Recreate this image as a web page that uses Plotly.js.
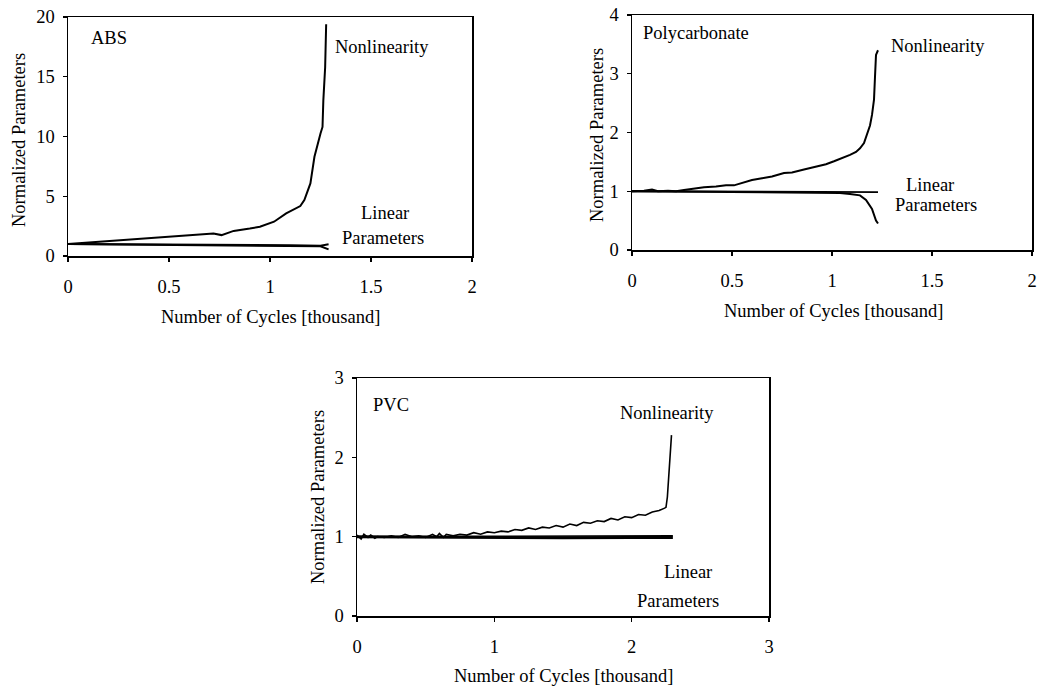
<!DOCTYPE html>
<html>
<head>
<meta charset="utf-8">
<script src="https://cdn.plot.ly/plotly-3.0.1.min.js"></script>
<style>html,body{margin:0;padding:0;background:#fff;}#chart{width:1039px;height:688px;}</style>
</head>
<body>
<div id="chart"></div>
<script>
// ---- ABS ----
const absNonX = [0, 0.1, 0.24, 0.37, 0.49, 0.6, 0.72, 0.76, 0.82, 0.9, 0.95, 1.02, 1.08, 1.15, 1.17, 1.2, 1.22, 1.25, 1.26, 1.264, 1.273, 1.278];
const absNonY = [1.0, 1.12, 1.34, 1.5, 1.62, 1.75, 1.89, 1.75, 2.1, 2.3, 2.45, 2.87, 3.57, 4.18, 4.68, 6.07, 8.3, 10.25, 10.8, 13.0, 15.8, 19.4];
const absLin1X = [0, 0.4, 0.8, 1.1, 1.25, 1.29];
const absLin1Y = [1.0, 0.98, 0.93, 0.9, 0.86, 0.98];
const absLin2X = [0, 0.4, 0.8, 1.1, 1.25, 1.29];
const absLin2Y = [1.0, 0.95, 0.9, 0.85, 0.82, 0.55];
const absXTicks = [0, 0.5, 1, 1.5, 2];
const absXTickText = ["0", "0.5", "1", "1.5", "2"];
const absYTicks = [0, 5, 10, 15, 20];

// ---- Polycarbonate ----
const pcNonX = [0, 0.06, 0.1, 0.13, 0.18, 0.22, 0.26, 0.31, 0.36, 0.42, 0.47, 0.51, 0.55, 0.6, 0.65, 0.7, 0.76, 0.8, 0.86, 0.93, 0.97, 1.01, 1.05, 1.09, 1.12, 1.14, 1.16, 1.17, 1.18, 1.19, 1.2, 1.21, 1.215, 1.22, 1.23];
const pcNonY = [1.0, 1.01, 1.03, 1.0, 1.01, 1.0, 1.02, 1.04, 1.07, 1.08, 1.1, 1.1, 1.14, 1.19, 1.22, 1.25, 1.31, 1.32, 1.37, 1.42, 1.46, 1.51, 1.56, 1.62, 1.67, 1.73, 1.82, 1.93, 2.02, 2.12, 2.3, 2.56, 2.95, 3.32, 3.4];
const pcLin1X = [0, 0.5, 1.0, 1.23];
const pcLin1Y = [1.0, 0.995, 0.99, 0.985];
const pcLin2X = [0, 0.5, 0.9, 1.04, 1.09, 1.14, 1.17, 1.2, 1.22, 1.23];
const pcLin2Y = [1.0, 0.99, 0.98, 0.97, 0.955, 0.93, 0.85, 0.7, 0.5, 0.45];
const pcXTicks = [0, 0.5, 1, 1.5, 2];
const pcXTickText = ["0", "0.5", "1", "1.5", "2"];
const pcYTicks = [0, 1, 2, 3, 4];

// ---- PVC ----
const pvcNonX = [0, 0.03, 0.05, 0.08, 0.1, 0.13, 0.15, 0.2, 0.25, 0.3, 0.35, 0.4, 0.45, 0.5, 0.55, 0.58, 0.6, 0.63, 0.65, 0.7, 0.75, 0.8, 0.85, 0.9, 0.95, 1.0, 1.05, 1.1, 1.15, 1.2, 1.25, 1.3, 1.35, 1.4, 1.45, 1.5, 1.55, 1.6, 1.65, 1.7, 1.75, 1.8, 1.85, 1.9, 1.95, 2.0, 2.05, 2.1, 2.15, 2.2, 2.24, 2.25, 2.26, 2.27, 2.28, 2.29];
const pvcNonY = [1.02, 0.97, 1.03, 0.99, 1.02, 0.98, 1.0, 0.99, 1.01, 0.99, 1.03, 1.0, 1.01, 0.99, 1.03, 1.0, 1.04, 0.99, 1.03, 1.01, 1.03, 1.02, 1.05, 1.03, 1.06, 1.05, 1.07, 1.06, 1.09, 1.08, 1.11, 1.09, 1.12, 1.11, 1.14, 1.12, 1.16, 1.14, 1.18, 1.17, 1.2, 1.19, 1.23, 1.21, 1.25, 1.24, 1.28, 1.27, 1.31, 1.33, 1.36, 1.37, 1.5, 1.8, 2.05, 2.28];
const pvcLin1X = [0, 0.5, 1.0, 1.5, 2.0, 2.3];
const pvcLin1Y = [1.0, 0.995, 0.99, 0.985, 0.99, 0.99];
const pvcLin2X = [0, 1.6, 2.3];
const pvcLin2Y = [1.0, 1.01, 1.01];
const pvcXTicks = [0, 1, 2, 3];
const pvcXTickText = ["0", "1", "2", "3"];
const pvcYTicks = [0, 1, 2, 3];

const FONT = "Liberation Serif, Times New Roman, serif";
const FS = 18.5;

function line(x, y, xa, ya, w) {
  return {x: x, y: y, xaxis: xa, yaxis: ya, type: "scatter", mode: "lines",
          line: {color: "#000", width: w}, hoverinfo: "skip", showlegend: false};
}

const data = [
  line(absNonX, absNonY, "x", "y", 2),
  line(absLin1X, absLin1Y, "x", "y", 2),
  line(absLin2X, absLin2Y, "x", "y", 2),
  line(pcNonX, pcNonY, "x2", "y2", 2),
  line(pcLin1X, pcLin1Y, "x2", "y2", 1.8),
  line(pcLin2X, pcLin2Y, "x2", "y2", 2),
  line(pvcNonX, pvcNonY, "x3", "y3", 1.6),
  line(pvcLin1X, pvcLin1Y, "x3", "y3", 3),
  line(pvcLin2X, pvcLin2Y, "x3", "y3", 1.5)
];

function xax(domain, range, ticks, text, anchor) {
  return {domain: domain, range: range, anchor: anchor, tickvals: ticks, ticktext: text,
          showgrid: false, zeroline: false, showline: true, mirror: true, linecolor: "#000", linewidth: 1.5,
          ticks: "outside", ticklen: 4, tickwidth: 1.2, tickcolor: "#000", ticklabelstandoff: 9,
          ticklabeloverflow: "allow",
          tickfont: {family: FONT, size: FS, color: "#000"}, fixedrange: true};
}
function yax(domain, range, ticks, anchor) {
  return {domain: domain, range: range, anchor: anchor, tickvals: ticks,
          showgrid: false, zeroline: false, showline: true, mirror: true, linecolor: "#000", linewidth: 1.5,
          ticks: "outside", ticklen: 4, tickwidth: 1.2, tickcolor: "#000", ticklabelstandoff: 4,
          ticklabeloverflow: "allow",
          tickfont: {family: FONT, size: FS, color: "#000"}, fixedrange: true};
}

const W = 1039, H = 688;
function px(x) { return x / W; }
function py(y) { return 1 - y / H; }

function ann(text, x, y, xanchor, angle) {
  return {text: text, xref: "paper", yref: "paper", x: px(x), y: py(y), xanchor: xanchor || "center",
          yanchor: "middle", showarrow: false, textangle: angle || 0,
          font: {family: FONT, size: FS, color: "#000"}};
}

const layout = {
  width: W, height: H,
  margin: {l: 0, r: 0, t: 0, b: 0},
  paper_bgcolor: "#fff", plot_bgcolor: "#fff",
  showlegend: false,
  xaxis: xax([px(68), px(472)], [0, 2], absXTicks, absXTickText, "y"),
  yaxis: yax([py(256), py(17)], [0, 20], absYTicks, "x"),
  xaxis2: xax([px(632), px(1032)], [0, 2], pcXTicks, pcXTickText, "y2"),
  yaxis2: yax([py(250), py(15)], [0, 4], pcYTicks, "x2"),
  xaxis3: xax([px(357), px(769)], [0, 3], pvcXTicks, pvcXTickText, "y3"),
  yaxis3: yax([py(616), py(378)], [0, 3], pvcYTicks, "x3"),
  annotations: [
    ann("ABS", 89, 38, "left"),
    ann("Nonlinearity", 382, 47),
    ann("Linear", 385, 213),
    ann("Parameters", 383, 238),
    ann("Number of Cycles [thousand]", 270, 317),
    ann("Normalized Parameters", 19, 140, "center", -90),

    ann("Polycarbonate", 641, 33, "left"),
    ann("Nonlinearity", 938, 46),
    ann("Linear", 930, 185),
    ann("Parameters", 936, 205),
    ann("Number of Cycles [thousand]", 833, 311),
    ann("Normalized Parameters", 597, 135, "center", -90),

    ann("PVC", 371, 405, "left"),
    ann("Nonlinearity", 667, 413),
    ann("Linear", 688, 572),
    ann("Parameters", 678, 601),
    ann("Number of Cycles [thousand]", 563, 676),
    ann("Normalized Parameters", 318, 497, "center", -90)
  ]
};

Plotly.newPlot("chart", data, layout, {staticPlot: true, displayModeBar: false});
</script>
</body>
</html>
